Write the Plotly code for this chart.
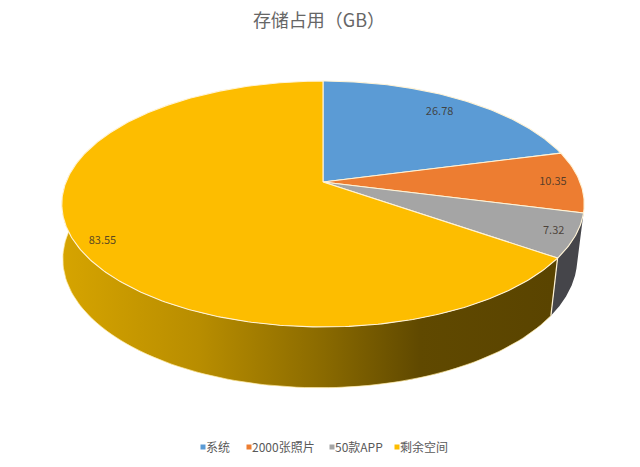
import numpy as np
import plotly.graph_objects as go

TITLE = "存储占用（GB）"
CATEGORIES = ["系统", "2000张照片", "50款APP", "剩余空间"]
VALUES = [26.78, 10.35, 7.32, 83.55]
COLORS = ["#5B9BD5", "#ED7D31", "#A5A5A5", "#FDBD00"]
LABEL_RADIUS = [0.83, 0.895, 0.92, 0.91]
LABEL_ANGLE_SHIFT = [0, 0, 0, -2.5]
LEGEND_X = [203, 249, 332, 397]
FONT = "Noto Sans CJK SC"
RIM = "#FFF3D6"

K = 0.179


def project(theta_deg, cx, a, b, y0, r=1.0):
    t = np.radians(np.asarray(theta_deg, dtype=float))
    xp, yp = r * np.sin(t), r * np.cos(t)
    w = 1 + K * yp
    return cx + a * xp / w, y0 - b * yp / w


def top(theta, r=1.0):
    return project(theta, 323, 257, 119, 182, r)


def bottom(theta):
    return project(theta, 320, 253, 124.6, 236)


total = sum(VALUES)
edges = np.concatenate([[0], np.cumsum(VALUES) / total * 360])

fig = go.Figure()


def band(start, stop, **style):
    th = np.linspace(start, stop, 120)
    tx, ty = top(th)
    bx, by = bottom(th[::-1])
    fig.add_trace(go.Scatter(
        x=np.concatenate([tx, bx, tx[:1]]), y=np.concatenate([ty, by, ty[:1]]),
        mode="lines", fill="toself", line=dict(width=0, color="rgba(0,0,0,0)"),
        hoverinfo="skip", showlegend=False, **style))


# side walls (hidden parts are covered by the top face)
band(edges[2], edges[3], fillcolor="#45454A")
band(edges[3], 285, fillgradient=dict(
    type="horizontal", start=62, stop=552,
    colorscale=[[0, "#D6A400"], [0.28, "#B88D00"], [0.533, "#8A6A00"],
                [0.73, "#604900"], [1, "#5A4400"]]))

# pale edge along the foot of the yellow wall
fx, fy = bottom(np.linspace(edges[3], 272, 100))
fig.add_trace(go.Scatter(x=fx, y=fy, mode="lines", line=dict(color="#FFE9A0", width=0.7),
                         hoverinfo="skip", showlegend=False))

# rim line between the walls
ex, ey = top(edges[3])
bx, by = bottom(edges[3])
fig.add_trace(go.Scatter(x=[float(ex), float(bx)], y=[float(ey), float(by)], mode="lines",
                         line=dict(color=RIM, width=1.2), hoverinfo="skip", showlegend=False))

# top face
for i, (name, color) in enumerate(zip(CATEGORIES, COLORS)):
    th = np.linspace(edges[i], edges[i + 1], max(8, int((edges[i + 1] - edges[i]) * 1.5)))
    ax, ay = top(th)
    fig.add_trace(go.Scatter(
        x=np.concatenate([[323], ax, [323]]), y=np.concatenate([[182], ay, [182]]),
        mode="lines", fill="toself", fillcolor=color,
        line=dict(color=RIM, width=1.1), name=name, hoverinfo="skip", showlegend=False))

# value labels
for i, v in enumerate(VALUES):
    mx, my = top((edges[i] + edges[i + 1]) / 2 + LABEL_ANGLE_SHIFT[i], LABEL_RADIUS[i])
    fig.add_trace(go.Scatter(
        x=[float(mx)], y=[float(my)], mode="text", text=[f"{v:.2f}"],
        textfont=dict(family=FONT, size=11, color="rgba(60,50,40,0.85)"),
        hoverinfo="skip", showlegend=False))

# legend row
fig.add_trace(go.Scatter(
    x=LEGEND_X, y=[447] * 4, mode="markers",
    marker=dict(symbol="square", size=5, color=COLORS),
    hoverinfo="skip", showlegend=False))
fig.add_trace(go.Scatter(
    x=[v + 3 for v in LEGEND_X], y=[448.5] * 4, mode="text",
    text=CATEGORIES, textposition="middle right",
    textfont=dict(family=FONT, size=12, color="#595959"),
    hoverinfo="skip", showlegend=False))

# title as a text mark
fig.add_trace(go.Scatter(
    x=[319], y=[22], mode="text", text=[TITLE], textposition="middle center",
    textfont=dict(family=FONT, size=18, color="#666666"),
    hoverinfo="skip", showlegend=False))

fig.update_layout(
    width=640, height=467, margin=dict(l=0, r=0, t=0, b=0),
    paper_bgcolor="white", plot_bgcolor="white", showlegend=False,
    xaxis=dict(range=[0, 640], visible=False, fixedrange=True),
    yaxis=dict(range=[467, 0], visible=False, fixedrange=True),
)
fig.write_html("out.html", config={"displayModeBar": False},
               post_script="document.body.style.margin='0';document.documentElement.style.overflow='hidden';")
